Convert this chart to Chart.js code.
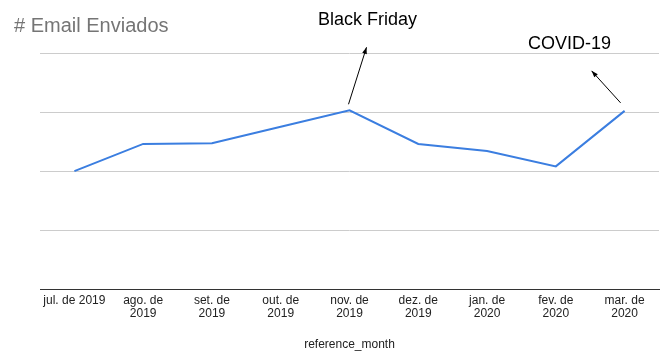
<!DOCTYPE html>
<html>
<head>
<meta charset="utf-8">
<script src="https://cdn.jsdelivr.net/npm/chart.js@4"></script>
<style>
  html, body { margin: 0; padding: 0; background: #fff; }
  #wrap { width: 670px; height: 364px; }
</style>
</head>
<body>
<div id="wrap"><canvas id="grafico"></canvas></div>
<script>
const meses = ['jul. de 2019', ['ago. de', '2019'], ['set. de', '2019'], ['out. de', '2019'],
    ['nov. de', '2019'], ['dez. de', '2019'], ['jan. de', '2020'], ['fev. de', '2020'], ['mar. de', '2020']];
const emailsEnviados = [2000, 2460, 2470, 2750, 3030, 2460, 2340, 2080, 3020];
const notas = [
    { indice: 4, texto: 'Black Friday' },
    { indice: 8, texto: 'COVID-19' }
];

const fonte = "Arial, 'Liberation Sans', sans-serif";

// desenha as anotações (texto + seta) a partir do ponto do dado
const pluginNotas = {
    id: 'notas',
    afterDraw(chart) {
        const ctx = chart.ctx;
        const x = chart.scales.x, y = chart.scales.y;
        ctx.save();
        ctx.strokeStyle = '#000';
        ctx.fillStyle = '#000';
        ctx.lineWidth = 1;
        notas.forEach(n => {
            const px = x.getPixelForValue(n.indice);
            const py = y.getPixelForValue(emailsEnviados[n.indice]);
            let x0, y0, x1, y1, tx, ty;
            if (n.indice === 4) {
                x0 = px - 1; y0 = py - 6; x1 = px + 17; y1 = py - 63; tx = px + 18; ty = 20;
            } else {
                x0 = px - 4; y0 = py - 8; x1 = px - 33; y1 = py - 40; tx = px - 55; ty = 44;
            }
            ctx.beginPath();
            ctx.moveTo(x0, y0);
            ctx.lineTo(x1, y1);
            ctx.stroke();
            const ang = Math.atan2(y1 - y0, x1 - x0);
            ctx.beginPath();
            ctx.moveTo(x1, y1);
            ctx.lineTo(x1 - 7 * Math.cos(ang - 0.35), y1 - 7 * Math.sin(ang - 0.35));
            ctx.lineTo(x1 - 7 * Math.cos(ang + 0.35), y1 - 7 * Math.sin(ang + 0.35));
            ctx.closePath();
            ctx.fill();
            ctx.font = '18px ' + fonte;
            ctx.textAlign = 'center';
            ctx.textBaseline = 'middle';
            ctx.fillText(n.texto, tx, ty);
        });
        ctx.restore();
    }
};

new Chart(document.getElementById('grafico').getContext('2d'), {
    type: 'line',
    data: {
        labels: meses,
        datasets: [{
            label: '# Email Enviados',
            data: emailsEnviados,
            borderColor: '#3b7ee0',
            borderWidth: 2,
            pointRadius: 0,
            tension: 0,
            fill: false
        }]
    },
    options: {
        responsive: true,
        maintainAspectRatio: false,
        animation: false,
        layout: { padding: { left: 14, right: 11, top: 0, bottom: 4 } },
        plugins: {
            legend: { display: false },
            tooltip: { enabled: false },
            title: {
                display: true,
                text: '# Email Enviados',
                align: 'start',
                color: '#757575',
                font: { family: fonte, size: 20, weight: 'normal' },
                padding: { top: 14, bottom: 15 }
            }
        },
        scales: {
            x: {
                offset: true,
                grid: { display: false, drawTicks: false },
                border: { display: true, color: '#333', width: 1 },
                ticks: {
                    color: '#222',
                    font: { family: fonte, size: 12, lineHeight: 1.1 },
                    padding: 5,
                    maxRotation: 0,
                    autoSkip: false
                },
                title: {
                    display: true,
                    text: 'reference_month',
                    color: '#222',
                    font: { family: fonte, size: 12 },
                    padding: { top: 12, bottom: 8 }
                }
            },
            y: {
                min: 0,
                max: 4000,
                ticks: { display: false, stepSize: 1000 },
                grid: { color: '#cccccc', drawTicks: false },
                border: { display: false },
                afterFit(scale) { scale.width = 26; }
            }
        }
    },
    plugins: [pluginNotas]
});
</script>
</body>
</html>
